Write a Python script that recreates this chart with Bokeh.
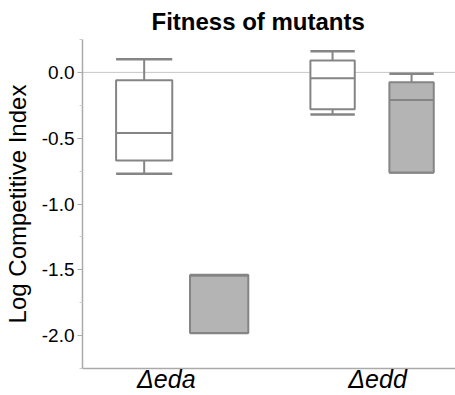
from bokeh.plotting import figure
from bokeh.models import Range1d, FixedTicker, ColumnDataSource
from bokeh.embed import file_html
from bokeh.resources import INLINE

# ---- data ----
categories = ["\u0394eda", "\u0394edd"]
cat_pos = [1, 2]
box_x = [0.895, 1.25, 1.787, 2.161]
box_w = [0.266, 0.276, 0.21, 0.21]
box_hi = [0.10, -1.54, 0.16, -0.01]
box_q3 = [-0.06, -1.54, 0.09, -0.075]
box_med = [-0.46, -1.545, -0.045, -0.21]
box_q1 = [-0.67, -1.98, -0.28, -0.76]
box_lo = [-0.77, -1.98, -0.32, -0.76]
box_fill = ["white", "#b4b4b4", "white", "#b4b4b4"]
y_ticks = [-2.0, -1.5, -1.0, -0.5, 0.0]
y_labels = ["-2.0", "-1.5", "-1.0", "-0.5", "0.0"]

FONT = "Liberation Sans"
LINE = "#858585"
X0, X1 = 0.603, 2.369

p = figure(width=455, height=395, output_backend="svg", toolbar_location=None,
           x_range=Range1d(X0, X1), y_range=Range1d(-2.25, 0.25),
           min_border_left=77, min_border_right=0, min_border_top=38,
           min_border_bottom=27, title="Fitness of mutants")
p.outline_line_color = None
p.grid.visible = False
p.background_fill_color = "white"

p.title.text_font = FONT
p.title.text_font_size = "24px"
p.title.text_font_style = "bold"
p.title.align = "left"
p.title.offset = 69
p.title.text_color = "black"

# zero line
p.segment(x0=[X0], x1=[X1], y0=[0.0], y1=[0.0], line_color="#c8c8c8", line_width=1)

left = [x - w / 2 for x, w in zip(box_x, box_w)]
right = [x + w / 2 for x, w in zip(box_x, box_w)]
src = ColumnDataSource(dict(x=box_x, left=left, right=right, hi=box_hi, q3=box_q3,
                            med=box_med, q1=box_q1, lo=box_lo, fill=box_fill))

# whiskers
p.segment(x0="x", x1="x", y0="q3", y1="hi", source=src, line_color=LINE, line_width=2)
p.segment(x0="x", x1="x", y0="q1", y1="lo", source=src, line_color=LINE, line_width=2)
p.segment(x0="left", x1="right", y0="hi", y1="hi", source=src, line_color=LINE, line_width=2.5)
p.segment(x0="left", x1="right", y0="lo", y1="lo", source=src, line_color=LINE, line_width=2.5)
# boxes
p.quad(left="left", right="right", top="q3", bottom="q1", source=src,
       fill_color="fill", line_color=LINE, line_width=2)
p.segment(x0="left", x1="right", y0="med", y1="med", source=src, line_color=LINE, line_width=2)

# axes
xa = p.xaxis[0]
xa.ticker = FixedTicker(ticks=cat_pos)
xa.major_label_overrides = {c: l for c, l in zip(cat_pos, categories)}
xa.major_label_text_font = FONT
xa.major_label_text_font_size = "25px"
xa.major_label_text_font_style = "italic"
xa.major_label_text_color = "black"
xa.major_tick_line_color = None
xa.minor_tick_line_color = None
xa.axis_line_color = "#aaaaaa"
xa.axis_line_width = 1.5
xa.major_label_standoff = -10

ya = p.yaxis[0]
ya.ticker = FixedTicker(ticks=y_ticks, minor_ticks=[-2.25, -1.75, -1.25, -0.75, -0.25, 0.25])
ya.major_label_overrides = {t: l for t, l in zip(y_ticks, y_labels)}
ya.major_label_text_font = FONT
ya.major_label_text_font_size = "19px"
ya.major_label_text_color = "black"
ya.axis_line_color = "#aaaaaa"
ya.axis_line_width = 1.5
ya.major_tick_line_color = "#aaaaaa"
ya.minor_tick_line_color = "#cccccc"
ya.major_tick_out = 5
ya.major_tick_in = 0
ya.minor_tick_out = 3
ya.minor_tick_in = 0
ya.major_label_standoff = 3
ya.axis_label = "Log Competitive Index"
ya.axis_label_text_font = FONT
ya.axis_label_text_font_size = "24px"
ya.axis_label_text_font_style = "normal"
ya.axis_label_text_color = "black"
ya.axis_label_standoff = 8

open("out.html", "w").write(file_html(p, INLINE))
